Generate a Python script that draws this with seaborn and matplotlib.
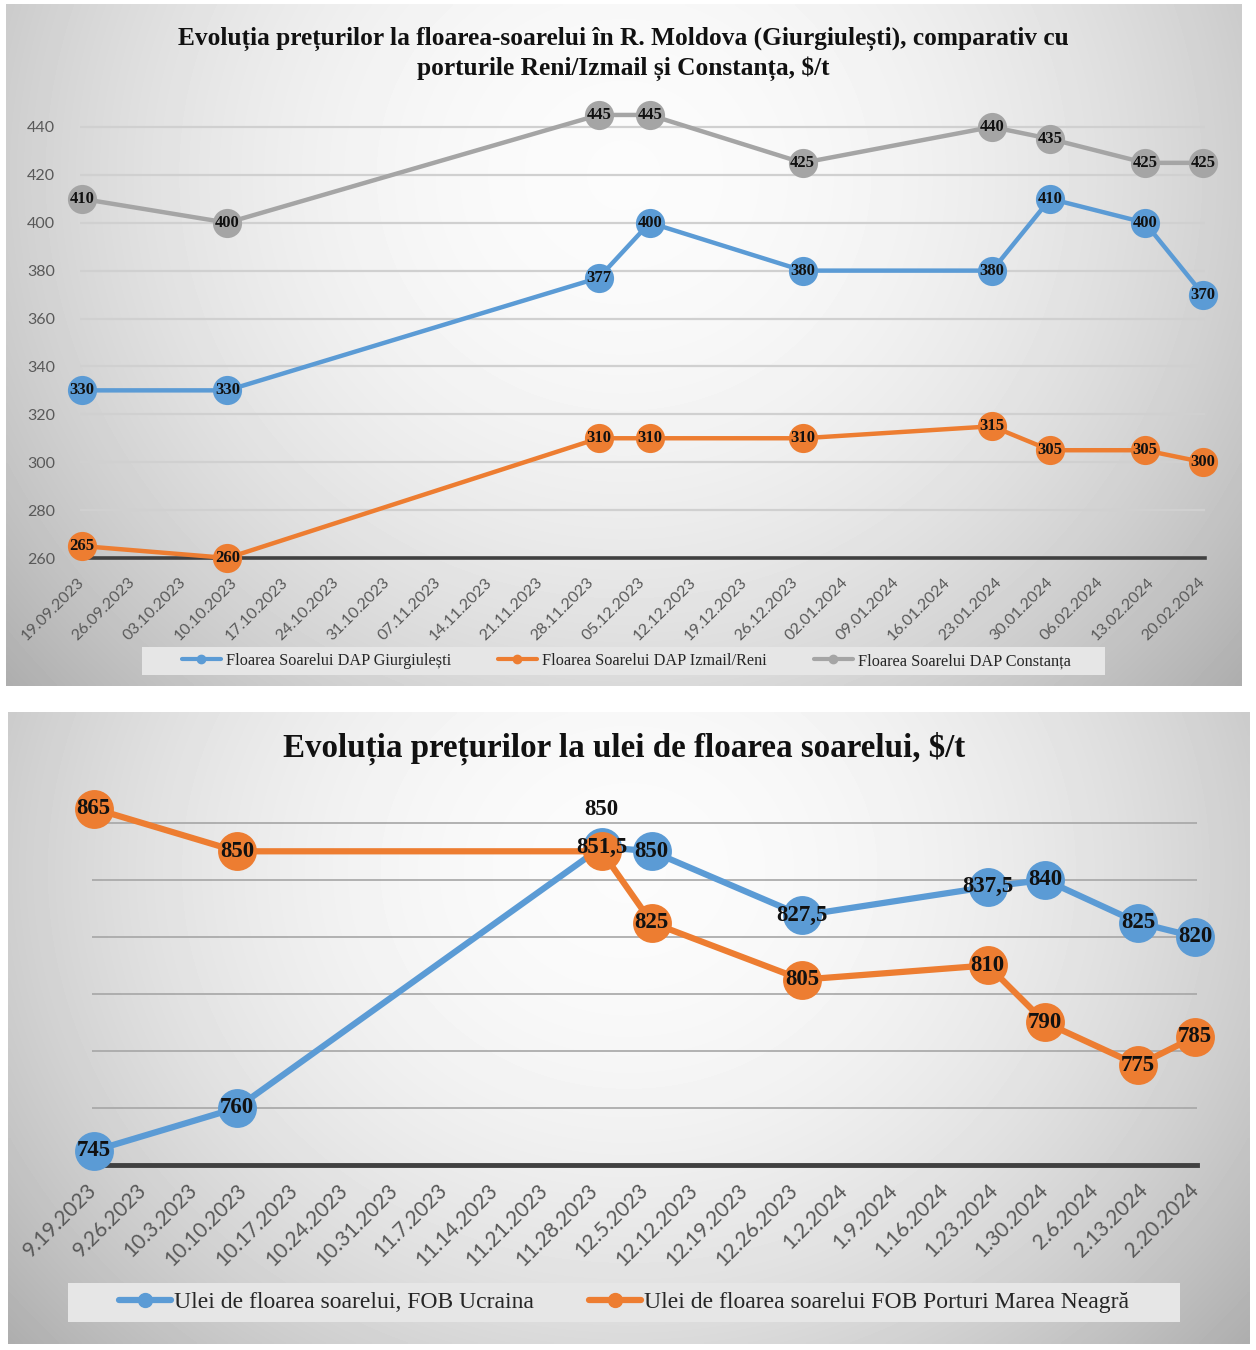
import numpy as np
import pandas as pd
import matplotlib
matplotlib.use("Agg")
import matplotlib.pyplot as plt
import matplotlib.dates as mdates
from matplotlib.lines import Line2D
from matplotlib.patches import Rectangle
import seaborn as sns

# ---------------- data ----------------
dates = ["2023-09-19", "2023-10-09", "2023-11-29", "2023-12-06", "2023-12-27",
         "2024-01-22", "2024-01-30", "2024-02-12", "2024-02-20"]
giurgiulesti = [330, 330, 377, 400, 380, 380, 410, 400, 370]
izmail_reni = [265, 260, 310, 310, 310, 315, 305, 305, 300]
constanta = [410, 400, 445, 445, 425, 440, 435, 425, 425]
oil_ukraine = [745, 760, 851.5, 850, 827.5, 837.5, 840, 825, 820]
oil_black_sea = [865, 850, 850, 825, 805, 810, 790, 775, 785]

title_top = ["Evoluția prețurilor la floarea-soarelui în R. Moldova (Giurgiulești), comparativ cu",
             "porturile Reni/Izmail și Constanța, $/t"]
title_bottom = "Evoluția prețurilor la ulei de floarea soarelui, $/t"
names_top = ["Floarea Soarelui DAP Giurgiulești", "Floarea Soarelui DAP Izmail/Reni",
             "Floarea Soarelui DAP Constanța"]
names_bottom = ["Ulei de floarea soarelui, FOB Ucraina",
                "Ulei de floarea soarelui FOB Porturi Marea Neagră"]
tick_start, tick_end = "2023-09-19", "2024-02-20"
yticks_top = [260, 280, 300, 320, 340, 360, 380, 400, 420, 440]
yticks_bottom = [760, 780, 800, 820, 840, 860]

BLUE, ORANGE, GRAY = "#5b9bd5", "#ed7d31", "#a5a5a5"

sns.set_theme(style="white")
plt.rcParams["font.family"] = ["Liberation Serif", "DejaVu Serif"]

W, H = 1256, 1350
fig = plt.figure(figsize=(W / 100, H / 100), dpi=100)
fig.patch.set_facecolor("white")


def rect(x0, y0, x1, y1):
    return [x0 / W, 1 - y1 / H, (x1 - x0) / W, (y1 - y0) / H]


def panel(x0, y0, x1, y1):
    bg = fig.add_axes(rect(x0, y0, x1, y1), zorder=0)
    ny, nx = 200, 300
    yy, xx = np.mgrid[0:1:ny * 1j, 0:1:nx * 1j]
    r = np.sqrt(((xx - 0.5) / 0.55) ** 2 + ((yy - 0.25) / 0.95) ** 2)
    v = 0.985 - 0.21 * np.clip(r, 0, 1.6) ** 2
    bg.imshow(v, cmap="gray", vmin=0, vmax=1, aspect="auto",
              extent=[0, 1, 0, 1], interpolation="bilinear", origin="upper")
    bg.set_xlim(0, 1)
    bg.set_ylim(0, 1)
    bg.axis("off")
    return bg


panel(6, 4, 1242, 686)
panel(8, 712, 1250, 1344)

tick_dates = pd.date_range(tick_start, tick_end, freq="7D")
x = pd.to_datetime(dates)

# ---------------- top chart ----------------
ax1 = fig.add_axes(rect(80, 91, 1205, 558), zorder=2)
ax1.set_facecolor("none")
top_series = [(giurgiulesti, BLUE, names_top[0]),
              (izmail_reni, ORANGE, names_top[1]),
              (constanta, GRAY, names_top[2])]
for vals, col, name in top_series:
    sns.lineplot(x=x, y=vals, ax=ax1, color=col, lw=3.2, marker="o",
                 markersize=21, markeredgewidth=0, clip_on=False, zorder=3)
    for xi, v in zip(x, vals):
        ax1.text(xi, v, f"{v:g}".replace(".", ","), ha="center", va="center",
                 fontsize=12, fontweight="bold", color="#111111", zorder=5,
                 clip_on=False)
ax1.set_xlim(pd.Timestamp(tick_start) - pd.Timedelta(hours=6),
             pd.Timestamp(tick_end) + pd.Timedelta(hours=6))
ax1.set_ylim(260, 455)
ax1.set_yticks(yticks_top)
ax1.set_yticklabels([str(t) for t in yticks_top], family="Lato", fontsize=11.5,
                    color="#595959")
ax1.yaxis.grid(True, color="#d0d0d0", lw=1.6)
ax1.xaxis.grid(False)
ax1.set_axisbelow(True)
for s in ["left", "right", "top"]:
    ax1.spines[s].set_visible(False)
ax1.spines["bottom"].set_color("#404040")
ax1.spines["bottom"].set_linewidth(2.6)
ax1.set_xticks(tick_dates)
ax1.set_xticklabels([d.strftime("%d.%m.%Y") for d in tick_dates], family="Lato",
                    fontsize=11.5, color="#595959", rotation=45, ha="right",
                    va="center", rotation_mode="anchor")
ax1.tick_params(axis="x", direction="out", length=6, width=1.6, color="#404040", pad=10)
ax1.tick_params(axis="y", length=0, pad=18)
ax1.set_xlabel("")
ax1.set_ylabel("")
fig.text(623 / W, 1 - 39 / H, title_top[0], ha="center", va="center",
         fontsize=18.3, fontweight="bold", color="#111111")
fig.text(623 / W, 1 - 69 / H, title_top[1], ha="center", va="center",
         fontsize=18.3, fontweight="bold", color="#111111")

fig.add_artist(Rectangle((142 / W, 1 - 675 / H), (1105 - 142) / W, 28 / H,
                         transform=fig.transFigure, facecolor="#e6e6e6",
                         edgecolor="none", zorder=1))
h_top = [Line2D([], [], color=c, lw=3, marker="o", markersize=6) for _, c, _ in top_series]
fig.legend(h_top, names_top, loc="center", bbox_to_anchor=(626 / W, 1 - 661 / H),
           ncol=3, frameon=False, fontsize=11.7, handlelength=2.4,
           handletextpad=0.3, columnspacing=2.9)

# ---------------- bottom chart ----------------
ax2 = fig.add_axes(rect(92, 780, 1197, 1165), zorder=2)
ax2.set_facecolor("none")
bottom_series = [(oil_ukraine, BLUE, names_bottom[0]),
                 (oil_black_sea, ORANGE, names_bottom[1])]
for vals, col, name in bottom_series:
    sns.lineplot(x=x, y=vals, ax=ax2, color=col, lw=4.5, marker="o",
                 markersize=28, markeredgewidth=0, clip_on=False, zorder=3)
for k, (vals, col, name) in enumerate(bottom_series):
    for i, (xi, v) in enumerate(zip(x, vals)):
        dy = 0
        if k == 1 and i == 2:
            dy = 42
        ax2.annotate(f"{v:g}".replace(".", ","), (xi, v), xytext=(0, dy * 0.72),
                     textcoords="offset points", ha="center", va="center",
                     fontsize=16.5, fontweight="bold", color="#111111", zorder=5,
                     annotation_clip=False)
ax2.set_xlim(pd.Timestamp(tick_start) - pd.Timedelta(hours=6),
             pd.Timestamp(tick_end) + pd.Timedelta(hours=6))
ax2.set_ylim(740, 875)
ax2.set_yticks(yticks_bottom)
ax2.set_yticklabels([])
ax2.yaxis.grid(True, color="#a6a6a6", lw=1.2)
ax2.xaxis.grid(False)
ax2.set_axisbelow(True)
for s in ["left", "right", "top"]:
    ax2.spines[s].set_visible(False)
ax2.spines["bottom"].set_color("#404040")
ax2.spines["bottom"].set_linewidth(3.5)
ax2.set_xticks(tick_dates)
ax2.set_xticklabels([f"{d.month}.{d.day}.{d.year}" for d in tick_dates], family="Lato",
                    fontsize=15, color="#595959", rotation=45, ha="right",
                    va="center", rotation_mode="anchor")
ax2.tick_params(axis="x", direction="out", length=6, width=2, color="#404040", pad=10)
ax2.tick_params(axis="y", length=0)
ax2.set_xlabel("")
ax2.set_ylabel("")
fig.text(624 / W, 1 - 748 / H, title_bottom, ha="center", va="center",
         fontsize=23.8, fontweight="bold", color="#111111")

fig.add_artist(Rectangle((68 / W, 1 - 1322 / H), (1180 - 68) / W, 39 / H,
                         transform=fig.transFigure, facecolor="#e6e6e6",
                         edgecolor="none", zorder=1))
h_bot = [Line2D([], [], color=c, lw=4.5, marker="o", markersize=10) for _, c, _ in bottom_series]
fig.legend(h_bot, names_bottom, loc="center", bbox_to_anchor=(624 / W, 1 - 1302 / H),
           ncol=2, frameon=False, fontsize=17, handlelength=2.2,
           handletextpad=0.15, columnspacing=2.3)

fig.savefig("out.png", dpi=100, facecolor="white")
